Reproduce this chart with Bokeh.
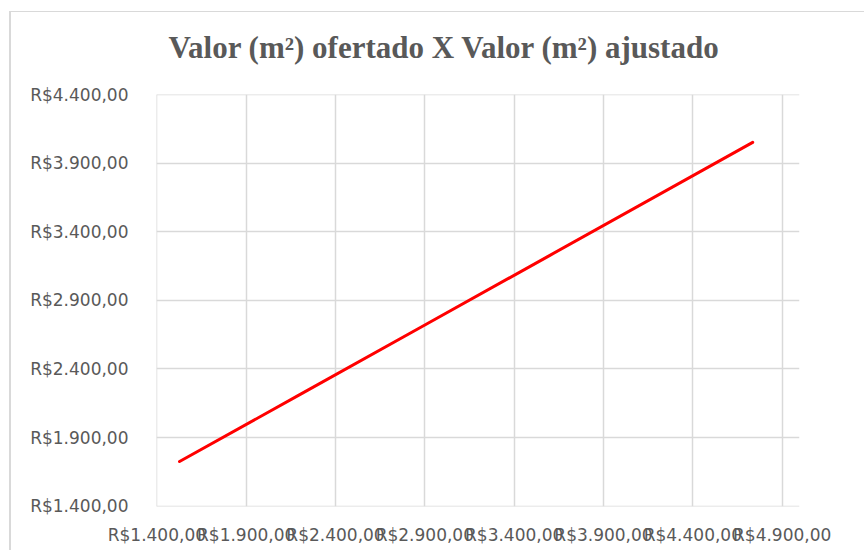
from bokeh.plotting import figure
from bokeh.models import FixedTicker, Range1d, Title
from bokeh.embed import file_html
from bokeh.resources import INLINE

# data
valor_ofertado = [1527, 2200, 2900, 3600, 4735]
valor_ajustado = [1725, 2213, 2721, 3229, 4053]

x_ticks = [1400, 1900, 2400, 2900, 3400, 3900, 4400, 4900]
y_ticks = [1400, 1900, 2400, 2900, 3400, 3900, 4400]


def brl(v):
    s = f"{v:,.2f}"
    s = s.replace(",", "X").replace(".", ",").replace("X", ".")
    return "R$" + s


title = "Valor (m²) ofertado X Valor (m²) ajustado"

p = figure(width=855, height=539, output_backend="svg", toolbar_location=None,
           x_range=Range1d(1398, 4997), y_range=Range1d(1397, 4402),
           min_border_left=145, min_border_right=67, min_border_top=82,
           min_border_bottom=45)

p.styles = {"margin-left": "9px", "margin-top": "11px",
            "border-left": "2px solid #d9d9d9", "border-top": "1px solid #d9d9d9"}

p.title.text = title
p.title.align = "left"
p.title.offset = 12
p.title.standoff = 0
p.title.text_font = "Liberation Serif"
p.title.text_font_style = "bold"
p.title.text_font_size = "31px"
p.title.text_color = "#595959"

# spacer between title and plot area
p.add_layout(Title(text=" ", text_font_size="2px", standoff=26), "above")

p.outline_line_color = None
p.background_fill_color = "white"
p.border_fill_color = "white"

grid_color = "#d9d9d9"
p.xgrid.ticker = FixedTicker(ticks=x_ticks)
p.ygrid.ticker = FixedTicker(ticks=y_ticks)
p.xgrid.grid_line_color = grid_color
p.ygrid.grid_line_color = grid_color
p.xgrid.grid_line_width = 1.5
p.ygrid.grid_line_width = 1.5

for ax, ticks in ((p.xaxis[0], x_ticks), (p.yaxis[0], y_ticks)):
    ax.ticker = FixedTicker(ticks=ticks)
    ax.major_label_overrides = {t: brl(t) for t in ticks}
    ax.axis_line_color = None
    ax.major_tick_line_color = None
    ax.minor_tick_line_color = None
    ax.major_tick_out = 0
    ax.major_tick_in = 0
    ax.major_label_text_font = "DejaVu Sans"
    ax.major_label_text_font_size = "17px"
    ax.major_label_text_color = "#595959"

p.xaxis.major_label_standoff = 18
p.yaxis.major_label_standoff = 28

p.line(valor_ofertado, valor_ajustado, line_color="#ff0000", line_width=3,
       line_cap="round")

open("out.html", "w").write(file_html(p, INLINE))
